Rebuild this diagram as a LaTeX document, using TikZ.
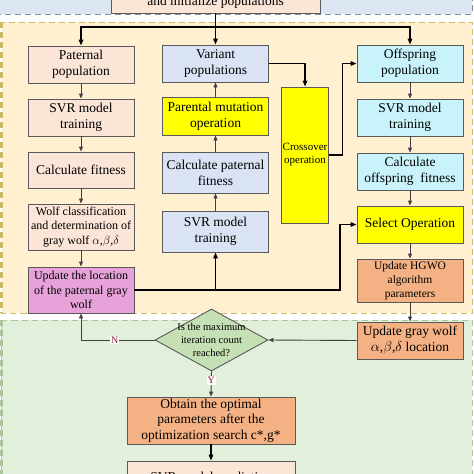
\documentclass[tikz,border=0pt]{standalone}
\usepackage{fontspec}
\setmainfont{Liberation Serif}
\usetikzlibrary{shapes.geometric, arrows.meta, positioning, calc}

\definecolor{patfill}{HTML}{FBE5D6}
\definecolor{varfill}{HTML}{DAE3F3}
\definecolor{offfill}{HTML}{C9F3FA}
\definecolor{opfill}{HTML}{FFFF00}
\definecolor{locfill}{HTML}{E7A3D9}
\definecolor{updfill}{HTML}{F4B183}
\definecolor{judgefill}{HTML}{C5E0B4}
\definecolor{initbg}{HTML}{DCE6F2}
\definecolor{initline}{HTML}{8393A6}
\definecolor{loopbg}{HTML}{FFF0D2}
\definecolor{loopline}{HTML}{CDBB63}
\definecolor{endbg}{HTML}{E2EFDA}
\definecolor{endline}{HTML}{A9C79A}
\definecolor{linegray}{HTML}{404040}
\definecolor{ynred}{HTML}{8B1A2B}

\begin{document}
\begin{tikzpicture}[
    x=1pt, y=-1pt,
    proc/.style={draw=black!65, line width=0.9pt, minimum width=106pt, align=center,
        inner sep=1pt, font=\fontsize{13.5}{16}\selectfont},
    small/.style={font=\fontsize{12}{14.5}\selectfont},
    flow/.style={-{Triangle[length=5pt,width=4pt]}, draw=linegray, line width=0.9pt},
    link/.style={-{Triangle[length=6pt,width=4.5pt]}, draw=black, line width=1.4pt},
    tag/.style={font=\fontsize{10}{12}\selectfont, text=ynred, fill=white, inner sep=1pt},
    region/.style={dash pattern=on 6pt off 4pt, line width=1pt}
]
\useasboundingbox (0,0) rectangle (474,474);

% background regions
\fill[initbg] (-5,-20) rectangle (472,14);
\draw[region, initline] (-5,14) -- (472,14) -- (472,-20);
\fill[loopbg] (1.5,22) rectangle (472,313);
\draw[region, loopline] (1.5,22) rectangle (472,313);
\draw[region, loopline, line width=2.5pt] (1.5,22) -- (1.5,313);
\fill[endbg] (1.5,320) rectangle (472,490);
\draw[region, endline] (1.5,490) -- (1.5,320) -- (472,320) -- (472,490);
\draw[region, endline, line width=2.5pt] (1.5,320) -- (1.5,490);

% initialization
\node[proc, fill=patfill, minimum width=209pt, minimum height=22pt] (init) at (215.5,2) {and initialize populations};
\coordinate (split) at (215.5,27);

% left column
\node[proc, fill=patfill, minimum height=37pt] (patpop) at (81,64.5) {Paternal\\population};
\node[proc, fill=patfill, minimum height=37pt] (svra) at (81,117.5) {SVR model\\training};
\node[proc, fill=patfill, minimum height=36pt] (calca) at (81,170) {Calculate fitness};
\node[proc, small, fill=patfill, minimum height=46pt] (wolf) at (81,227) {Wolf classification\\and determination of\\gray wolf $\alpha$,$\beta$,$\delta$};
\node[proc, small, fill=locfill, minimum height=46pt] (updloc) at (81,290) {Update the location\\of the paternal gray\\wolf};

% middle column
\node[proc, fill=varfill, minimum height=37pt] (var) at (215.5,63.5) {Variant\\populations};
\node[proc, fill=opfill, minimum height=38pt] (mut) at (215.5,116) {Parental mutation\\operation};
\node[proc, fill=varfill, minimum height=41pt] (calcp) at (215.5,172.5) {Calculate paternal\\fitness};
\node[proc, fill=varfill, minimum height=41pt] (svrb) at (215.5,231.5) {SVR model\\training};
\node[proc, fill=opfill, minimum width=46pt, minimum height=136pt,
    font=\fontsize{11}{13}\selectfont] (cross) at (305,155) {Crossover\\operation};
\coordinate (joint) at (215.5,290);
\coordinate (bend) at (340,290);

% right column
\node[proc, fill=offfill, minimum height=37pt] (offpop) at (410,63.5) {Offspring\\population};
\node[proc, fill=offfill, minimum height=37pt] (svrc) at (410,117.5) {SVR model\\training};
\node[proc, fill=offfill, minimum height=37pt] (calcc) at (410,171.5) {Calculate\\offspring~~fitness};
\node[proc, fill=opfill, minimum height=37pt] (select) at (410,224.5) {Select Operation};
\node[proc, fill=updfill, minimum height=43pt, font=\fontsize{11.5}{14}\selectfont] (hgwo) at (410,280.5) {Update HGWO\\algorithm\\parameters};
\node[proc, fill=updfill, minimum height=37pt] (updgw) at (410,340.5) {Update gray wolf\\$\alpha$,$\beta$,$\delta$ location};

% termination
\node[diamond, draw=black!65, line width=0.9pt, fill=judgefill, inner sep=0pt,
    minimum width=113pt, minimum height=62pt,
    label={[align=center, font=\fontsize{10.5}{13}\selectfont]center:Is the maximum\\iteration count\\reached?}] (judge) at (211.5,340) {};
\node[proc, fill=updfill, minimum width=168pt, minimum height=47pt, font=\fontsize{13.5}{15.5}\selectfont] (obtain) at (211,420.5) {Obtain the optimal\\parameters after the\\optimization search c*,g*};
\node[proc, fill=patfill, minimum width=168pt, minimum height=34pt] (predict) at (211,478) {SVR model prediction};

% connectors
\draw[link] (init.south) -- (var.north);
\draw[link] (split) -| (patpop.north);
\draw[link] (split) -| (offpop.north);
\draw[link] (var.east) -| (cross.north);
\draw[link] (cross.east) -- ++(14,0) |- (offpop.west);

\draw[flow] (patpop) -- (svra);
\draw[flow] (svra) -- (calca);
\draw[flow] (calca) -- (wolf);
\draw[flow] (wolf) -- (updloc);

\draw[flow] (mut) -- (var);
\draw[flow] (calcp) -- (mut);
\draw[flow] (svrb) -- (calcp);
\draw[link] (updloc.east) -- (bend) |- (select.west);
\draw[link] (joint) -- (svrb.south);

\draw[flow] (offpop) -- (svrc);
\draw[flow] (svrc) -- (calcc);
\draw[flow] (calcc) -- (select);
\draw[flow] (select) -- (hgwo);
\draw[flow] (hgwo) -- (updgw);

\draw[flow] (updgw.west) -- (judge.east);
\draw[flow] (judge.west) -| node[tag, pos=0.27] {N} (updloc.south);
\draw[flow] (judge.south) -- node[tag, pos=0.35] {Y} (obtain.north);
\draw[link] (obtain.south) -- (predict.north);
\end{tikzpicture}
\end{document}
